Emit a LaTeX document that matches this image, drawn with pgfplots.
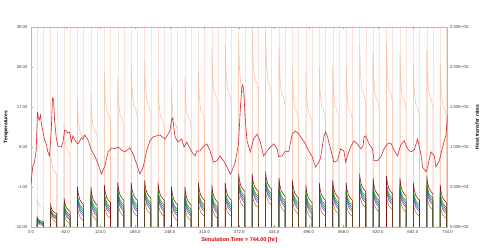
\documentclass[border=0pt]{standalone}
\usepackage{fontspec}
\setmainfont{Liberation Sans}
\usepackage{pgfplots}
\usepackage{pgfplotstable}
\pgfplotsset{compat=1.18}
\definecolor{pinkq}{RGB}{251,226,219}
\definecolor{peach}{RGB}{247,196,168}
\definecolor{redline}{RGB}{216,52,52}
\definecolor{maroon}{RGB}{140,20,20}
\definecolor{grn}{RGB}{0,175,0}
\definecolor{teal2}{RGB}{0,120,110}
\definecolor{blu}{RGB}{60,90,200}
\definecolor{purp}{RGB}{110,70,170}
\definecolor{brwn}{RGB}{190,110,50}
\pgfplotstableread{
t m g c b p r q k
11 -15 -15 -15 -15 -15 -15 0 0
11 -7.8 -8.2 -8.3 -8.4 -8.6 -8.9 36 400
12.5 -8.2 -8.5 -8.6 -8.8 -8.9 -9.2 30 400
15 -8.5 -8.8 -8.9 -9.0 -9.2 -9.5 27 400
19 -8.7 -9.0 -9.1 -9.2 -9.4 -9.6 26 400
22 -8.8 -9.1 -9.2 -9.3 -9.4 -9.7 24 400
22 -15 -15 -15 -15 -15 -15 0 0
35 -15 -15 -15 -15 -15 -15 0 0
35 -5.0 -5.8 -6.0 -6.3 -6.5 -7.3 96 400
36.5 -5.8 -6.4 -6.7 -6.9 -7.2 -7.8 81 400
39 -6.4 -7.0 -7.2 -7.5 -7.7 -8.3 72 400
43 -6.8 -7.4 -7.6 -7.9 -8.1 -8.7 69 400
46 -7.0 -7.5 -7.8 -8.0 -8.3 -8.8 65 400
46 -15 -15 -15 -15 -15 -15 0 0
59 -15 -15 -15 -15 -15 -15 0 0
59 -3.5 -4.6 -5.0 -5.4 -5.8 -6.9 130 400
60.5 -4.7 -5.6 -6.0 -6.4 -6.7 -7.7 109 400
63 -5.6 -6.4 -6.8 -7.2 -7.6 -8.5 98 400
67 -6.2 -7.0 -7.4 -7.8 -8.2 -9.0 94 400
70 -6.5 -7.3 -7.6 -8.0 -8.4 -9.2 88 400
70 -15 -15 -15 -15 -15 -15 0 0
83 -15 -15 -15 -15 -15 -15 0 0
83 -1.0 -2.5 -3.0 -3.5 -4.0 -5.5 160 400
84.5 -2.6 -3.8 -4.3 -4.8 -5.3 -6.6 134 400
87 -3.8 -4.9 -5.4 -5.9 -6.4 -7.6 120 400
91 -4.6 -5.7 -6.2 -6.7 -7.2 -8.3 115 400
94 -5.0 -6.0 -6.5 -7.0 -7.5 -8.6 109 400
94 -15 -15 -15 -15 -15 -15 0 0
107 -15 -15 -15 -15 -15 -15 0 0
107 -1.0 -2.5 -3.0 -3.5 -4.0 -5.5 167 400
108.5 -2.6 -3.8 -4.3 -4.8 -5.3 -6.6 140 400
111 -3.8 -4.9 -5.4 -5.9 -6.4 -7.6 125 400
115 -4.6 -5.7 -6.2 -6.7 -7.2 -8.3 120 400
118 -5.0 -6.0 -6.5 -7.0 -7.5 -8.6 114 400
118 -15 -15 -15 -15 -15 -15 0 0
131 -15 -15 -15 -15 -15 -15 0 0
131 -0.5 -2.0 -2.5 -3.0 -3.5 -5.0 194 400
132.5 -2.1 -3.3 -3.8 -4.3 -4.8 -6.1 163 400
135 -3.3 -4.4 -4.9 -5.4 -5.9 -7.1 146 400
139 -4.1 -5.2 -5.7 -6.2 -6.7 -7.8 140 400
142 -4.5 -5.5 -6.0 -6.5 -7.0 -8.1 132 400
142 -15 -15 -15 -15 -15 -15 0 0
155 -15 -15 -15 -15 -15 -15 0 0
155 0 -1.5 -2.0 -2.5 -3.0 -4.5 187 400
156.5 -1.6 -2.8 -3.3 -3.8 -4.3 -5.6 157 400
159 -2.8 -3.9 -4.4 -4.9 -5.4 -6.6 140 400
163 -3.6 -4.7 -5.2 -5.7 -6.2 -7.3 135 400
166 -4.0 -5.0 -5.5 -6.0 -6.5 -7.6 127 400
166 -15 -15 -15 -15 -15 -15 0 0
179 -15 -15 -15 -15 -15 -15 0 0
179 0 -1.5 -2.0 -2.5 -3.0 -4.5 204 400
180.5 -1.6 -2.8 -3.3 -3.8 -4.3 -5.6 171 400
183 -2.8 -3.9 -4.4 -4.9 -5.4 -6.6 153 400
187 -3.6 -4.7 -5.2 -5.7 -6.2 -7.3 147 400
190 -4.0 -5.0 -5.5 -6.0 -6.5 -7.6 139 400
190 -15 -15 -15 -15 -15 -15 0 0
203 -15 -15 -15 -15 -15 -15 0 0
203 0.5 -1.0 -1.5 -2.0 -2.5 -4.0 209 400
204.5 -1.1 -2.3 -2.8 -3.3 -3.8 -5.1 176 400
207 -2.3 -3.4 -3.9 -4.4 -4.9 -6.1 157 400
211 -3.1 -4.2 -4.7 -5.2 -5.7 -6.8 150 400
214 -3.5 -4.5 -5.0 -5.5 -6.0 -7.1 142 400
214 -15 -15 -15 -15 -15 -15 0 0
227 -15 -15 -15 -15 -15 -15 0 0
227 0 -1.5 -2.0 -2.5 -3.0 -4.5 185 400
228.5 -1.6 -2.8 -3.3 -3.8 -4.3 -5.6 155 400
231 -2.8 -3.9 -4.4 -4.9 -5.4 -6.6 139 400
235 -3.6 -4.7 -5.2 -5.7 -6.2 -7.3 133 400
238 -4.0 -5.0 -5.5 -6.0 -6.5 -7.6 126 400
238 -15 -15 -15 -15 -15 -15 0 0
251 -15 -15 -15 -15 -15 -15 0 0
251 -1.0 -2.5 -3.0 -3.5 -4.0 -5.5 176 400
252.5 -2.6 -3.8 -4.3 -4.8 -5.3 -6.6 148 400
255 -3.8 -4.9 -5.4 -5.9 -6.4 -7.6 132 400
259 -4.6 -5.7 -6.2 -6.7 -7.2 -8.3 127 400
262 -5.0 -6.0 -6.5 -7.0 -7.5 -8.6 120 400
262 -15 -15 -15 -15 -15 -15 0 0
275 -15 -15 -15 -15 -15 -15 0 0
275 -1.0 -2.5 -3.0 -3.5 -4.0 -5.5 187 400
276.5 -2.6 -3.8 -4.3 -4.8 -5.3 -6.6 157 400
279 -3.8 -4.9 -5.4 -5.9 -6.4 -7.6 140 400
283 -4.6 -5.7 -6.2 -6.7 -7.2 -8.3 135 400
286 -5.0 -6.0 -6.5 -7.0 -7.5 -8.6 127 400
286 -15 -15 -15 -15 -15 -15 0 0
299 -15 -15 -15 -15 -15 -15 0 0
299 0 -1.5 -2.0 -2.5 -3.0 -4.5 195 400
300.5 -1.6 -2.8 -3.3 -3.8 -4.3 -5.6 164 400
303 -2.8 -3.9 -4.4 -4.9 -5.4 -6.6 146 400
307 -3.6 -4.7 -5.2 -5.7 -6.2 -7.3 140 400
310 -4.0 -5.0 -5.5 -6.0 -6.5 -7.6 133 400
310 -15 -15 -15 -15 -15 -15 0 0
323 -15 -15 -15 -15 -15 -15 0 0
323 -0.5 -2.0 -2.5 -3.0 -3.5 -5.0 225 400
324.5 -2.1 -3.3 -3.8 -4.3 -4.8 -6.1 189 400
327 -3.3 -4.4 -4.9 -5.4 -5.9 -7.1 169 400
331 -4.1 -5.2 -5.7 -6.2 -6.7 -7.8 162 400
334 -4.5 -5.5 -6.0 -6.5 -7.0 -8.1 153 400
334 -15 -15 -15 -15 -15 -15 0 0
347 -15 -15 -15 -15 -15 -15 0 0
347 0 -1.5 -2.0 -2.5 -3.0 -4.5 229 400
348.5 -1.6 -2.8 -3.3 -3.8 -4.3 -5.6 192 400
351 -2.8 -3.9 -4.4 -4.9 -5.4 -6.6 172 400
355 -3.6 -4.7 -5.2 -5.7 -6.2 -7.3 165 400
358 -4.0 -5.0 -5.5 -6.0 -6.5 -7.6 156 400
358 -15 -15 -15 -15 -15 -15 0 0
371 -15 -15 -15 -15 -15 -15 0 0
371 2.0 0.5 0 -0.5 -1.0 -2.5 234 400
372.5 0.4 -0.8 -1.3 -1.8 -2.3 -3.6 197 400
375 -0.8 -1.9 -2.4 -2.9 -3.4 -4.6 176 400
379 -1.6 -2.7 -3.2 -3.7 -4.2 -5.3 168 400
382 -2.0 -3.0 -3.5 -4.0 -4.5 -5.6 159 400
382 -15 -15 -15 -15 -15 -15 0 0
395 -15 -15 -15 -15 -15 -15 0 0
395 2.0 0.5 0 -0.5 -1.0 -2.5 250 400
396.5 0.4 -0.8 -1.3 -1.8 -2.3 -3.6 210 400
399 -0.8 -1.9 -2.4 -2.9 -3.4 -4.6 188 400
403 -1.6 -2.7 -3.2 -3.7 -4.2 -5.3 180 400
406 -2.0 -3.0 -3.5 -4.0 -4.5 -5.6 170 400
406 -15 -15 -15 -15 -15 -15 0 0
419 -15 -15 -15 -15 -15 -15 0 0
419 2.5 1.0 0.5 0 -0.5 -2.0 244 400
420.5 0.9 -0.3 -0.8 -1.3 -1.8 -3.1 205 400
423 -0.3 -1.4 -1.9 -2.4 -2.9 -4.1 183 400
427 -1.1 -2.2 -2.7 -3.2 -3.7 -4.8 176 400
430 -1.5 -2.5 -3.0 -3.5 -4.0 -5.1 166 400
430 -15 -15 -15 -15 -15 -15 0 0
443 -15 -15 -15 -15 -15 -15 0 0
443 1.0 -0.5 -1.0 -1.5 -2.0 -3.5 225 400
444.5 -0.6 -1.8 -2.3 -2.8 -3.3 -4.6 189 400
447 -1.8 -2.9 -3.4 -3.9 -4.4 -5.6 169 400
451 -2.6 -3.7 -4.2 -4.7 -5.2 -6.3 162 400
454 -3.0 -4.0 -4.5 -5.0 -5.5 -6.6 153 400
454 -15 -15 -15 -15 -15 -15 0 0
467 -15 -15 -15 -15 -15 -15 0 0
467 0.5 -1.0 -1.5 -2.0 -2.5 -4.0 199 400
468.5 -1.1 -2.3 -2.8 -3.3 -3.8 -5.1 167 400
471 -2.3 -3.4 -3.9 -4.4 -4.9 -6.1 149 400
475 -3.1 -4.2 -4.7 -5.2 -5.7 -6.8 143 400
478 -3.5 -4.5 -5.0 -5.5 -6.0 -7.1 135 400
478 -15 -15 -15 -15 -15 -15 0 0
491 -15 -15 -15 -15 -15 -15 0 0
491 -0.5 -2.0 -2.5 -3.0 -3.5 -5.0 193 400
492.5 -2.1 -3.3 -3.8 -4.3 -4.8 -6.1 162 400
495 -3.3 -4.4 -4.9 -5.4 -5.9 -7.1 145 400
499 -4.1 -5.2 -5.7 -6.2 -6.7 -7.8 139 400
502 -4.5 -5.5 -6.0 -6.5 -7.0 -8.1 131 400
502 -15 -15 -15 -15 -15 -15 0 0
515 -15 -15 -15 -15 -15 -15 0 0
515 0 -1.5 -2.0 -2.5 -3.0 -4.5 201 400
516.5 -1.6 -2.8 -3.3 -3.8 -4.3 -5.6 169 400
519 -2.8 -3.9 -4.4 -4.9 -5.4 -6.6 151 400
523 -3.6 -4.7 -5.2 -5.7 -6.2 -7.3 145 400
526 -4.0 -5.0 -5.5 -6.0 -6.5 -7.6 137 400
526 -15 -15 -15 -15 -15 -15 0 0
539 -15 -15 -15 -15 -15 -15 0 0
539 0.5 -1.0 -1.5 -2.0 -2.5 -4.0 202 400
540.5 -1.1 -2.3 -2.8 -3.3 -3.8 -5.1 170 400
543 -2.3 -3.4 -3.9 -4.4 -4.9 -6.1 152 400
547 -3.1 -4.2 -4.7 -5.2 -5.7 -6.8 145 400
550 -3.5 -4.5 -5.0 -5.5 -6.0 -7.1 137 400
550 -15 -15 -15 -15 -15 -15 0 0
563 -15 -15 -15 -15 -15 -15 0 0
563 0 -1.5 -2.0 -2.5 -3.0 -4.5 200 400
564.5 -1.6 -2.8 -3.3 -3.8 -4.3 -5.6 168 400
567 -2.8 -3.9 -4.4 -4.9 -5.4 -6.6 150 400
571 -3.6 -4.7 -5.2 -5.7 -6.2 -7.3 144 400
574 -4.0 -5.0 -5.5 -6.0 -6.5 -7.6 136 400
574 -15 -15 -15 -15 -15 -15 0 0
587 -15 -15 -15 -15 -15 -15 0 0
587 2.0 0.5 0 -0.5 -1.0 -2.5 229 400
588.5 0.4 -0.8 -1.3 -1.8 -2.3 -3.6 192 400
591 -0.8 -1.9 -2.4 -2.9 -3.4 -4.6 172 400
595 -1.6 -2.7 -3.2 -3.7 -4.2 -5.3 165 400
598 -2.0 -3.0 -3.5 -4.0 -4.5 -5.6 156 400
598 -15 -15 -15 -15 -15 -15 0 0
611 -15 -15 -15 -15 -15 -15 0 0
611 1.0 -0.5 -1.0 -1.5 -2.0 -3.5 219 400
612.5 -0.6 -1.8 -2.3 -2.8 -3.3 -4.6 184 400
615 -1.8 -2.9 -3.4 -3.9 -4.4 -5.6 164 400
619 -2.6 -3.7 -4.2 -4.7 -5.2 -6.3 158 400
622 -3.0 -4.0 -4.5 -5.0 -5.5 -6.6 149 400
622 -15 -15 -15 -15 -15 -15 0 0
635 -15 -15 -15 -15 -15 -15 0 0
635 1.5 0 -0.5 -1.0 -1.5 -3.0 230 400
636.5 -0.1 -1.3 -1.8 -2.3 -2.8 -4.1 193 400
639 -1.3 -2.4 -2.9 -3.4 -3.9 -5.1 173 400
643 -2.1 -3.2 -3.7 -4.2 -4.7 -5.8 166 400
646 -2.5 -3.5 -4.0 -4.5 -5.0 -6.1 156 400
646 -15 -15 -15 -15 -15 -15 0 0
659 -15 -15 -15 -15 -15 -15 0 0
659 1.0 -0.5 -1.0 -1.5 -2.0 -3.5 219 400
660.5 -0.6 -1.8 -2.3 -2.8 -3.3 -4.6 184 400
663 -1.8 -2.9 -3.4 -3.9 -4.4 -5.6 164 400
667 -2.6 -3.7 -4.2 -4.7 -5.2 -6.3 158 400
670 -3.0 -4.0 -4.5 -5.0 -5.5 -6.6 149 400
670 -15 -15 -15 -15 -15 -15 0 0
683 -15 -15 -15 -15 -15 -15 0 0
683 0 -1.5 -2.0 -2.5 -3.0 -4.5 205 400
684.5 -1.6 -2.8 -3.3 -3.8 -4.3 -5.6 172 400
687 -2.8 -3.9 -4.4 -4.9 -5.4 -6.6 154 400
691 -3.6 -4.7 -5.2 -5.7 -6.2 -7.3 148 400
694 -4.0 -5.0 -5.5 -6.0 -6.5 -7.6 139 400
694 -15 -15 -15 -15 -15 -15 0 0
707 -15 -15 -15 -15 -15 -15 0 0
707 1.5 0 -0.5 -1.0 -1.5 -3.0 221 400
708.5 -0.1 -1.3 -1.8 -2.3 -2.8 -4.1 186 400
711 -1.3 -2.4 -2.9 -3.4 -3.9 -5.1 166 400
715 -2.1 -3.2 -3.7 -4.2 -4.7 -5.8 159 400
718 -2.5 -3.5 -4.0 -4.5 -5.0 -6.1 150 400
718 -15 -15 -15 -15 -15 -15 0 0
731 -15 -15 -15 -15 -15 -15 0 0
731 -0.5 -2.0 -2.5 -3.0 -3.5 -5.0 205 400
732.5 -2.1 -3.3 -3.8 -4.3 -4.8 -6.1 172 400
735 -3.3 -4.4 -4.9 -5.4 -5.9 -7.1 154 400
739 -4.1 -5.2 -5.7 -6.2 -6.7 -7.8 148 400
742 -4.5 -5.5 -6.0 -6.5 -7.0 -8.1 139 400
742 -15 -15 -15 -15 -15 -15 0 0
}\data
\pgfplotsset{
  common/.style={at={(0,0)}, anchor=south west, scale only axis,
    width=416.5bp, height=200bp, xmin=0, xmax=744,
    tick label style={font=\fontsize{4.3}{5}\selectfont, text=black!75},
    label style={font=\fontsize{5}{6}\selectfont\bfseries},
    major tick length=2bp, tick style={gray!70, line width=0.3pt},
    axis line style={gray!55, line width=0.6pt},
    /pgf/number format/assume math mode=true},
}
\begin{document}
\begin{tikzpicture}
\path[use as bounding box] (-31bp,-21bp) rectangle (449bp,227bp);
\begin{axis}[common, hide x axis, axis y line*=right, ymin=0, ymax=250,
  ytick={0,50,100,150,200,250},
  yticklabels={0.00E+00,5.00E+04,1.00E+05,1.50E+05,2.00E+05,2.50E+05},
  yticklabel style={xshift=-1bp},
  ylabel={Heat transfer rates}]
\addplot[pinkq, line width=0.45pt] table[x=t, y=k]{\data};
\addplot[peach, line width=0.6pt] table[x=t, y=q]{\data};
\end{axis}
\begin{axis}[common, ymin=-10, ymax=35, ytick={-10,-1,8,17,26,35},
  yticklabels={-10.00,-1.00,8.00,17.00,26.00,35.00}, ytick pos=left,
  xtick={0,62,124,186,248,310,372,434,496,558,620,682,744},
  xticklabels={0.0,62.0,124.0,186.0,248.0,310.0,372.0,434.0,496.0,558.0,620.0,682.0,744.0},
  xtick pos=both,
  ylabel={Temperatures},
  xlabel={Simulation Time = 744.00 [hr]},
  xlabel style={text=red!85!black, font=\fontsize{5.5}{6}\selectfont\bfseries, yshift=3bp}]
\addplot[brwn, line width=0.5pt] table[x=t, y=r]{\data};
\addplot[purp, line width=0.5pt] table[x=t, y=p]{\data};
\addplot[blu, line width=0.5pt] table[x=t, y=b]{\data};
\addplot[teal2, line width=0.5pt] table[x=t, y=c]{\data};
\addplot[grn, line width=0.5pt] table[x=t, y=g]{\data};
\addplot[maroon, line width=0.55pt] table[x=t, y=m]{\data};
\addplot[redline, line width=0.65pt] coordinates {
(0,-0.3) (3.2,3.7) (6.3,4.6) (9.3,7.3) (10.8,13.0) (11.7,15.9) (13.4,14.5) (15.2,14.1) (17.0,15.2) (18.8,13.0) (21.2,11.6) (24.2,9.6) (27.3,8.7) (30.1,6.9) (33.2,6.0) (36.2,11.8) (38.5,19.0) (40.3,18.6) (42.1,14.1) (45.2,10.0) (48.0,8.2) (54.1,8.0) (57.0,9.1) (60.1,11.8) (63.1,11.6) (66.0,11.1) (69.0,11.4) (72.1,9.1) (74.9,10.5) (78.0,9.6) (83.9,8.7) (90.0,10.0) (92.9,9.8) (95.9,10.7) (101.8,9.6) (107.9,7.3) (113.8,6.0) (119.8,4.2) (125.9,1.9) (131.8,3.7) (137.7,6.9) (143.8,7.8) (149.7,7.6) (155.6,8.0) (161.7,7.3) (167.6,6.9) (176.6,7.8) (182.5,6.4) (188.6,4.2) (194.5,1.9) (200.4,3.5) (206.5,7.1) (212.4,9.4) (218.4,10.3) (224.5,10.5) (230.4,10.7) (239.3,9.8) (248.3,11.6) (251.0,14.1) (252.8,14.5) (254.6,13.0) (257.3,10.3) (262.6,9.1) (269.3,9.8) (273.4,8.0) (278.2,9.1) (287.2,6.9) (293.1,6.0) (296.2,7.1) (302.1,7.1) (308.0,8.2) (314.1,8.7) (320.0,7.1) (325.9,4.6) (332.0,4.9) (337.9,6.0) (343.9,4.9) (350.0,3.5) (355.9,1.9) (358.9,2.6) (364.8,4.6) (370.7,8.7) (373.8,16.3) (376.5,21.3) (378.3,22.0) (380.1,20.4) (382.8,14.1) (385.8,9.4) (391.7,6.9) (397.6,9.8) (403.7,10.9) (409.6,9.1) (415.6,6.0) (421.7,7.1) (427.6,8.0) (433.5,8.7) (439.6,7.6) (442.5,5.8) (448.6,6.0) (454.5,7.1) (460.4,6.9) (466.5,10.9) (472.4,11.6) (478.3,10.9) (484.4,9.8) (490.3,8.7) (496.3,7.1) (502.3,5.8) (508.2,3.5) (514.2,4.6) (517.2,5.5) (523.1,10.3) (526.2,11.4) (529.2,10.5) (535.1,7.6) (541.1,4.6) (547.2,4.9) (553.1,7.6) (559.0,7.1) (562.1,4.6) (565.1,6.0) (571.0,8.0) (577.0,9.4) (583.0,8.7) (589.0,7.6) (593.1,8.2) (594.9,10.3) (597.9,10.5) (603.8,8.7) (609.9,7.6) (612.8,4.9) (618.9,4.9) (624.8,5.8) (630.7,7.6) (636.8,8.7) (642.7,8.9) (648.6,7.3) (654.7,6.0) (660.6,8.5) (666.6,9.4) (672.6,7.6) (678.6,6.9) (684.5,7.3) (690.6,9.8) (696.5,6.4) (699.5,3.5) (705.5,2.4) (708.5,3.5) (714.4,6.9) (720.4,6.0) (723.4,3.5) (729.3,4.9) (735.4,8.0) (741.3,10.7) (744,15.2)
};
\end{axis}
\end{tikzpicture}
\end{document}
